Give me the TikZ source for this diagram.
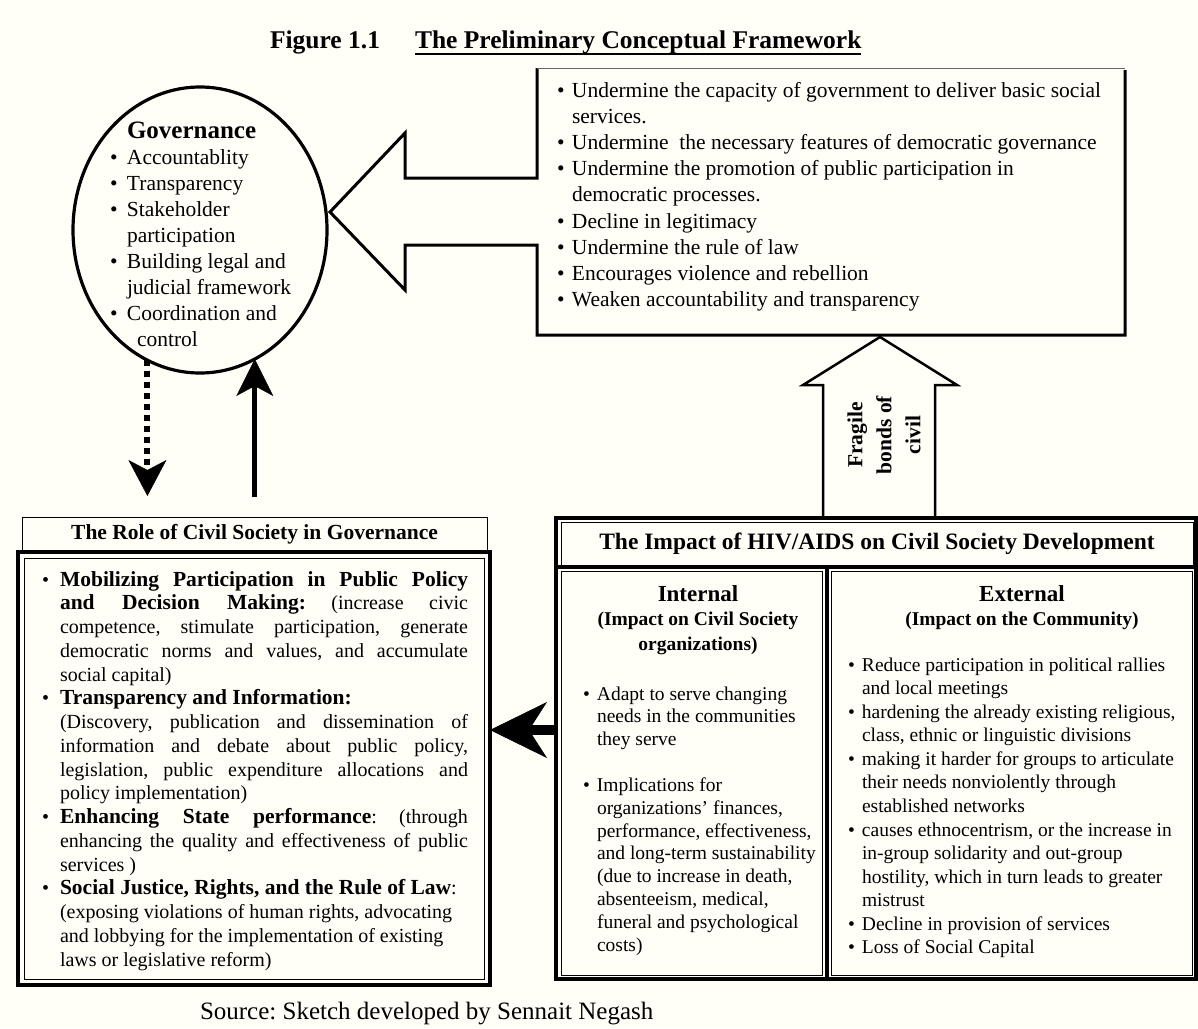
\documentclass[tikz,border=0pt]{standalone}
\usepackage{fontspec}
\setmainfont{Liberation Serif}
\usetikzlibrary{arrows.meta,shapes.geometric}
\definecolor{bg}{RGB}{255,254,247}
\newcommand{\fs}[2]{\fontsize{#1pt}{#2pt}\selectfont}
\newcommand{\bul}[1]{\makebox[#1][l]{\textbullet}}
\newcommand{\ind}[1]{\hspace*{#1}}
\newcommand{\jus}[1]{\makebox[408pt][s]{#1}}
\newcommand{\bld}[1]{{\fs{21.5}{23.75}\bfseries #1}}
\frenchspacing
\begin{document}
\begin{tikzpicture}[x=1pt,y=-1pt,
  every node/.style={inner sep=0pt, outer sep=0pt},
  thinbox/.style={draw, line width=0.9pt},
  heavybox/.style={draw, line width=4pt},
  txt/.style={anchor=base west},
  ctxt/.style={anchor=base},
  dotarr/.style={line width=6pt, dash pattern=on 6pt off 5pt, -{Stealth[length=36pt,width=38pt,inset=10pt,line width=0.5pt]}},
  uparr/.style={line width=5pt, -{Stealth[length=37pt,width=37pt,inset=10pt,line width=0.5pt]}},
  bigarr/.style={line width=10pt, -{Stealth[length=57pt,width=56pt,inset=18pt,line width=0.5pt]}}
]
\fill[bg] (0,0) rectangle (1198,1028);
\useasboundingbox (0,0) rectangle (1198,1028);

% title
\node[txt, font=\fs{25.5}{28}\bfseries] (fig) at (270,48) {Figure 1.1};
\node[txt, font=\fs{25.5}{28}\bfseries] (ttl) at (415,48) {The Preliminary Conceptual Framework};
\draw[line width=1.6pt] ([yshift=-6pt]ttl.base west) -- ([yshift=-6pt]ttl.base east);

% governance ellipse
\node[ellipse, draw, line width=3.2pt, minimum width=254pt, minimum height=286pt, fill=bg] (gov) at (200,230) {};

% callout box with hollow arrow
\fill[bg] (537,68) -- (537,178) -- (405,178) -- (405,133) -- (330,212) -- (405,290) -- (405,245) -- (537,245) -- (537,335) -- (1125,335) -- (1125,68) -- cycle;
\draw[line width=3pt, line join=miter] (537,68) -- (537,178) -- (405,178) -- (405,133) -- (330,212) -- (405,290) -- (405,245) -- (537,245) -- (537,335) -- (1125,335) -- (1125,70);
\draw[line width=1pt, black!60] (537,68) -- (1125,68);

% fragile arrow
\draw[line width=2.5pt, line join=miter, fill=bg] (823,518) -- (823,385) -- (803,385) -- (880,337) -- (957,385) -- (935,385) -- (935,518);
\node[rotate=90, align=center, font=\fs{21.5}{29}\bfseries] (frag) at (884,435) {Fragile\\bonds of\\civil};

% role of civil society
\node[thinbox, anchor=north west, minimum width=465pt, minimum height=34pt, font=\fs{21.5}{24}\bfseries] (rolehead) at (22,517) {The Role of Civil Society in Governance};
\node[heavybox, anchor=north west, minimum width=472pt, minimum height=433pt] (rolemain) at (18,552) {};
\draw[line width=0.9pt] (24,558) rectangle (484,979);

% HIV block
\node[heavybox, anchor=north west, minimum width=640pt, minimum height=461pt] (hivouter) at (556,518) {};
\node[thinbox, anchor=north west, minimum width=632pt, minimum height=43pt, font=\fs{23.5}{26}\bfseries] (hivhead) at (561,522) {The Impact of HIV/AIDS on Civil Society Development};
\draw[line width=4pt] (556,567) -- (1196,567);
\draw[line width=4pt] (827,567) -- (827,979);
\node[thinbox, anchor=north west, minimum width=261pt, minimum height=404pt] (intbox) at (561,571) {};
\node[thinbox, anchor=north west, minimum width=361pt, minimum height=404pt] (extbox) at (831,571) {};

% texts
\node[txt] (govt) at (110,138) {\parbox[t]{220pt}{\fs{21.5}{26}%
\ind{17pt}{\fs{25}{26}\bfseries Governance}\\
\bul{17pt}Accountablity\\
\bul{17pt}Transparency\\
\bul{17pt}Stakeholder\\
\ind{17pt}participation\\
\bul{17pt}Building legal and\\
\ind{17pt}judicial framework\\
\bul{17pt}Coordination and\\
\ind{27pt}control}};

\node[txt] (topt) at (557,97) {\parbox[t]{570pt}{\fs{21.5}{26.2}%
\bul{15pt}Undermine the capacity of government to deliver basic social\\
\ind{15pt}services.\\
\bul{15pt}Undermine\ \ the necessary features of democratic governance\\
\bul{15pt}Undermine the promotion of public participation in\\
\ind{15pt}democratic processes.\\
\bul{15pt}Decline in legitimacy\\
\bul{15pt}Undermine the rule of law\\
\bul{15pt}Encourages violence and rebellion\\
\bul{15pt}Weaken accountability and transparency}};

\node[txt] (rolet) at (42,586) {\parbox[t]{440pt}{\fs{20}{23.75}%
\bul{18pt}\jus{\bld{Mobilizing Participation in Public Policy}}\\
\ind{18pt}\jus{\bld{and Decision Making:} (increase civic}\\
\ind{18pt}\jus{competence, stimulate participation, generate}\\
\ind{18pt}\jus{democratic norms and values, and accumulate}\\
\ind{18pt}social capital)\\
\bul{18pt}\bld{Transparency and Information:}\\
\ind{18pt}\jus{(Discovery, publication and dissemination of}\\
\ind{18pt}\jus{information and debate about public policy,}\\
\ind{18pt}\jus{legislation, public expenditure allocations and}\\
\ind{18pt}policy implementation)\\
\bul{18pt}\jus{\bld{Enhancing State performance}: (through}\\
\ind{18pt}\jus{enhancing the quality and effectiveness of public}\\
\ind{18pt}services )\\
\bul{18pt}\bld{Social Justice, Rights, and the Rule of Law}:\\
\ind{18pt}(exposing violations of human rights, advocating\\
\ind{18pt}and lobbying for the implementation of existing\\
\ind{18pt}laws or legislative reform)}};

\node[ctxt] (inth) at (698,601) {\parbox[t]{250pt}{\centering\fs{19.5}{24.5}%
{\fs{23}{24.5}\bfseries Internal}\\
\bfseries (Impact on Civil Society\\ organizations)}};

\node[txt] (intt) at (583,700) {\parbox[t]{235pt}{\fs{19.5}{22.8}%
\bul{14pt}Adapt to serve changing\\
\ind{14pt}needs in the communities\\
\ind{14pt}they serve\\[23pt]
\bul{14pt}Implications for\\
\ind{14pt}organizations’ finances,\\
\ind{14pt}performance, effectiveness,\\
\ind{14pt}and long-term sustainability\\
\ind{14pt}(due to increase in death,\\
\ind{14pt}absenteeism, medical,\\
\ind{14pt}funeral and psychological\\
\ind{14pt}costs)}};

\node[ctxt] (exth) at (1022,601) {\parbox[t]{350pt}{\centering\fs{19.5}{24.5}%
{\fs{23}{24.5}\bfseries External}\\
\bfseries (Impact on the Community)}};

\node[txt] (extt) at (848,671) {\parbox[t]{345pt}{\fs{19.5}{23.58}%
\bul{14pt}Reduce participation in political rallies\\
\ind{14pt}and local meetings\\
\bul{14pt}hardening the already existing religious,\\
\ind{14pt}class, ethnic or linguistic divisions\\
\bul{14pt}making it harder for groups to articulate\\
\ind{14pt}their needs nonviolently through\\
\ind{14pt}established networks\\
\bul{14pt}causes ethnocentrism, or the increase in\\
\ind{14pt}in-group solidarity and out-group\\
\ind{14pt}hostility, which in turn leads to greater\\
\ind{14pt}mistrust\\
\bul{14pt}Decline in provision of services\\
\bul{14pt}Loss of Social Capital}};

\node[txt, font=\fs{25}{27}] (src) at (200,1019) {Source: Sketch developed by Sennait Negash};

% connectors
\coordinate (da) at (148,496);
\coordinate (sb) at (255,497);
\coordinate (ay) at (0,730);
\draw[dotarr] (gov.248) -- (gov.248 |- da);
\draw[uparr] (gov.293 |- sb) -- (gov.293);
\draw[bigarr] (hivouter.west |- ay) -- (rolemain.east |- ay);
\end{tikzpicture}
\end{document}
